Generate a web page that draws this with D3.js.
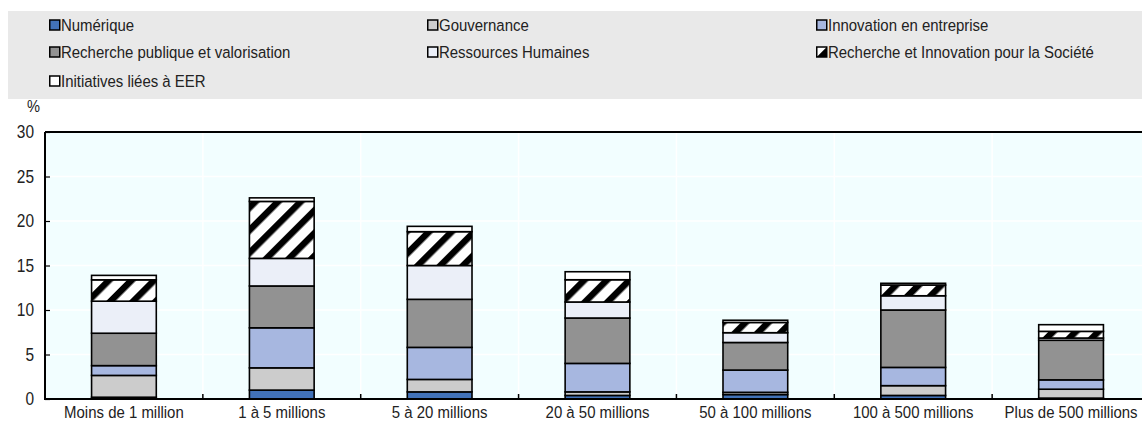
<!DOCTYPE html>
<html><head><meta charset="utf-8">
<script src="https://cdn.jsdelivr.net/npm/d3@7"></script>
<style>
html,body{margin:0;padding:0;background:#fff;overflow:hidden}
svg{display:block}
text{font-family:"Liberation Sans Narrow","Arial Narrow","Liberation Sans",Arial,sans-serif;fill:#222}
</style></head>
<body>
<script>
const categories = ["Moins de 1 million","1 à 5 millions","5 à 20 millions","20 à 50 millions","50 à 100 millions","100 à 500 millions","Plus de 500 millions"];
const seriesNames = ["Numérique","Gouvernance","Innovation en entreprise","Recherche publique et valorisation","Ressources Humaines","Recherche et Innovation pour la Société","Initiatives liées à EER"];
const numerique    = [0.2, 1.0, 0.8, 0.4, 0.5, 0.4, 0.1];
const gouvernance  = [2.45, 2.5, 1.4, 0.4, 0.25, 1.1, 1.0];
const innovation   = [1.1, 4.5, 3.6, 3.2, 2.5, 2.05, 1.05];
const recherchePub = [3.64, 4.7, 5.4, 5.1, 3.1, 6.45, 4.45];
const ressources   = [3.6, 3.1, 3.8, 1.8, 1.1, 1.6, 0.25];
const rechSociete  = [2.4, 6.4, 3.8, 2.5, 1.15, 1.2, 0.75];
const initiatives  = [0.5, 0.4, 0.6, 0.9, 0.25, 0.2, 0.75];
const yTicks = [0,5,10,15,20,25,30];

const seriesValues = [numerique,gouvernance,innovation,recherchePub,ressources,rechSociete,initiatives];
const fills = ["#4272B8","#CCCCCC","#A7B7E0","#929292","#EBEFF8","url(#hatch)","#FFFFFF"];

(function(){
const W = 1142, H = 425;
const svg = d3.select("body").append("svg").attr("width",W).attr("height",H);
const FONT = '"Liberation Sans Narrow","Arial Narrow","Liberation Sans",Arial,sans-serif';

function compress(sel, sx){
  sel.each(function(){
    const t = d3.select(this);
    const tx = +(t.attr("x")||0), ty = +(t.attr("y")||0);
    t.attr("x",0).attr("y",0).attr("transform",`translate(${tx},${ty}) scale(${sx},1)`);
  });
}

const defs = svg.append("defs");
const pat = defs.append("pattern").attr("id","hatch").attr("patternUnits","userSpaceOnUse")
  .attr("width",16).attr("height",16).attr("patternTransform","rotate(45)");
pat.append("rect").attr("width",16).attr("height",16).attr("fill","#fff");
pat.append("rect").attr("x",0).attr("width",6.5).attr("height",16).attr("fill","#000");

// Legend
const legX0 = 8, legY0 = 11, legW = W - 8, legH = 88;
svg.append("rect").attr("x",legX0).attr("y",legY0).attr("width",legW).attr("height",legH).attr("fill","#E9E9E9");
const colX = [49, 427, 816];
const rowY = [25, 52, 81];
const lg = svg.append("g");
seriesNames.forEach((name,i)=>{
  const cx = colX[i%3], cy = rowY[Math.floor(i/3)];
  const g = lg.append("g").attr("transform",`translate(${cx},${cy})`);
  if (i===5){
    g.append("rect").attr("x",0.75).attr("y",-5).attr("width",10).attr("height",10).attr("fill","#fff").attr("stroke","#000").attr("stroke-width",1.5);
    g.append("path").attr("d","M0.75,5 L10.75,-5 L10.75,5 Z").attr("fill","#000");
  } else {
    g.append("rect").attr("x",0.75).attr("y",-5).attr("width",10).attr("height",10).attr("fill",fills[i]).attr("stroke","#000").attr("stroke-width",1.5);
  }
  const tx = g.append("text").attr("x",12).attr("y",0).attr("dy","0.36em").attr("font-size",17).attr("fill","#333").text(name);
  compress(tx, 0.88);
});

// Plot
const pL = 45, pR = 1150, pT = 132, pB = 399;
const x = d3.scaleBand().domain(categories).range([pL,pR]).paddingInner(0.59).paddingOuter(0.295);
const y = d3.scaleLinear().domain([0,30]).range([pB,pT]);
const step = x.step();

svg.append("rect").attr("x",pL).attr("y",pT).attr("width",pR-pL).attr("height",pB-pT).attr("fill","#F2FEFF");
svg.append("g").selectAll("line").data(yTicks.filter(d=>d>0&&d<30)).join("line")
  .attr("x1",pL).attr("x2",pR).attr("y1",d=>y(d)).attr("y2",d=>y(d)).attr("stroke","#fff").attr("stroke-width",1.5);
svg.append("g").selectAll("line").data(d3.range(1,categories.length)).join("line")
  .attr("x1",i=>pL+i*step).attr("x2",i=>pL+i*step).attr("y1",pT).attr("y2",pB).attr("stroke","#fff").attr("stroke-width",1.5);

const table = categories.map((c,ci)=>{
  const o = {cat:c};
  seriesNames.forEach((s,si)=>o[s]=seriesValues[si][ci]);
  return o;
});
const stack = d3.stack().keys(seriesNames)(table);
const bars = svg.append("g");
stack.forEach((layer,li)=>{
  bars.append("g").selectAll("rect").data(layer).join("rect")
    .attr("x",d=>x(d.data.cat)).attr("width",x.bandwidth())
    .attr("y",d=>y(d[1])).attr("height",d=>y(d[0])-y(d[1]))
    .attr("fill",fills[li]).attr("stroke","#000").attr("stroke-width",1.6);
});

const yAxis = d3.axisLeft(y).tickValues(yTicks).tickSize(-5).tickPadding(11);
const ya = svg.append("g").attr("transform",`translate(${pL},0)`).call(yAxis);
ya.select(".domain").remove();
ya.selectAll(".tick line").attr("stroke","#000").attr("stroke-width",1.2);
ya.selectAll(".tick text").attr("font-size",18).attr("fill","#222").attr("font-family",FONT);
compress(ya.selectAll(".tick text"), 0.86);
svg.append("line").attr("x1",pL).attr("x2",pL).attr("y1",pT).attr("y2",pB+1).attr("stroke","#000").attr("stroke-width",2);
svg.append("line").attr("x1",pL).attr("x2",pR).attr("y1",pT).attr("y2",pT).attr("stroke","#000").attr("stroke-width",2);

const xAxis = d3.axisBottom(x).tickSize(0).tickPadding(7);
const xa = svg.append("g").attr("transform",`translate(0,${pB})`).call(xAxis);
xa.select(".domain").remove();
xa.selectAll(".tick text").attr("font-size",17).attr("fill","#222").attr("font-family",FONT);
compress(xa.selectAll(".tick text"), 0.88);
svg.append("g").selectAll("line").data(d3.range(1,categories.length)).join("line")
  .attr("x1",i=>pL+i*step).attr("x2",i=>pL+i*step).attr("y1",pB).attr("y2",pB-5).attr("stroke","#000").attr("stroke-width",1.5);
svg.append("line").attr("x1",pL-1).attr("x2",pR).attr("y1",pB).attr("y2",pB).attr("stroke","#000").attr("stroke-width",2);

const pc = svg.append("text").attr("x",27).attr("y",112).attr("font-size",17).text("%");
compress(pc, 0.86);
})();
</script>
</body></html>
